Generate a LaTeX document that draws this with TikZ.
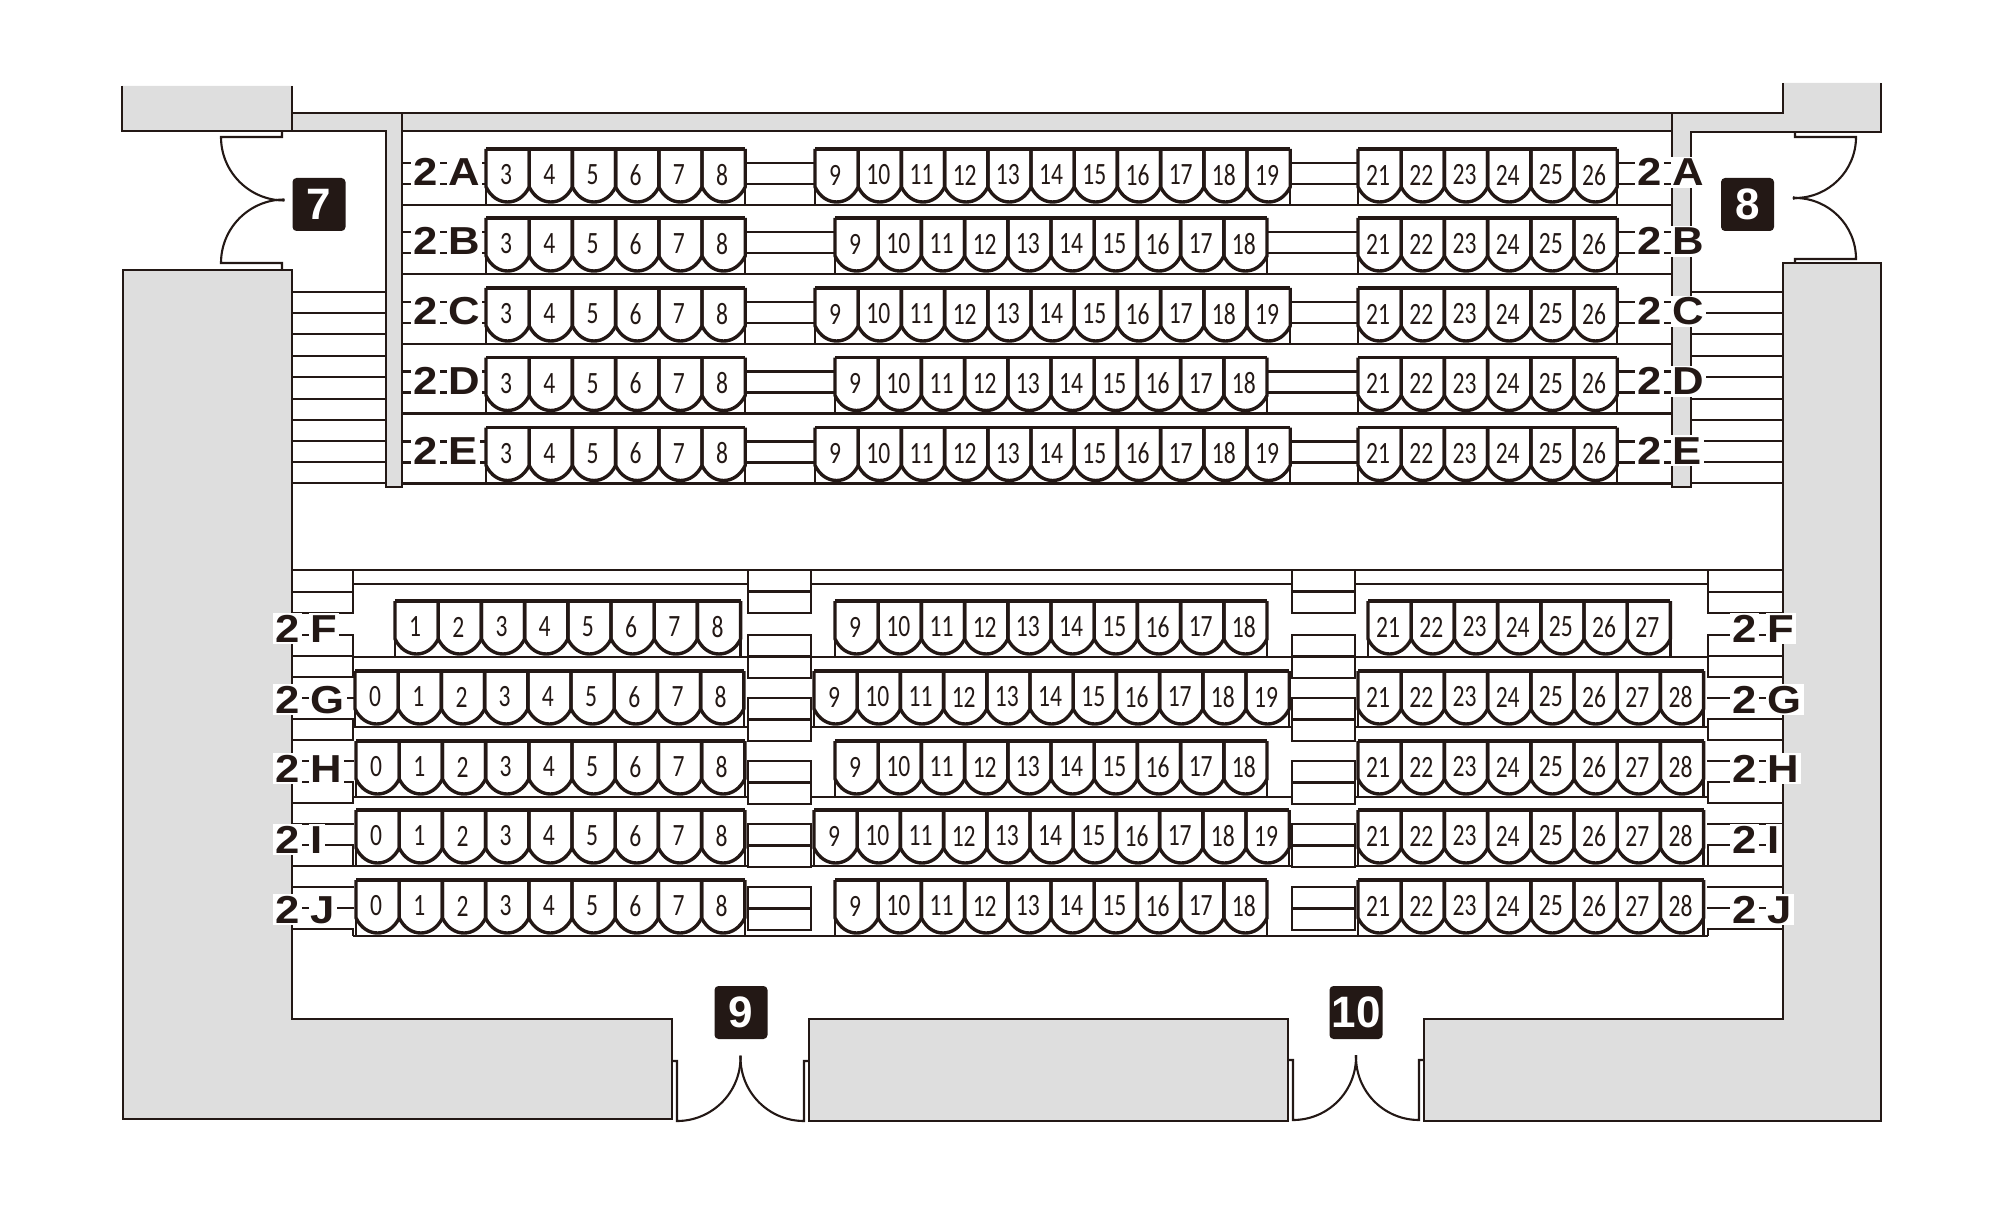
\documentclass[tikz,border=0pt]{standalone}
\usepackage{fontspec}
\usepackage{tikz}
\setmainfont{Liberation Sans}
\newfontfamily\labelfont[FakeStretch=1.12]{Liberation Sans}
\newfontfamily\seatfont[FakeStretch=0.76]{Carlito}
\definecolor{ink}{RGB}{35, 24, 21}
\definecolor{wallgray}{RGB}{222, 222, 222}
\tikzstyle{wall} = [draw=ink, line width=1.3pt, line join=miter]
\tikzstyle{stepline} = [draw=ink, line width=1.15pt]
\tikzstyle{seatline} = [draw=ink, line width=1.7pt, line join=round]
\tikzstyle{doorline} = [draw=ink, line width=1.05pt]
\tikzstyle{seatnum} = [inner sep=0pt, text=ink, font=\seatfont\fontsize{15.5}{16}\selectfont]
\tikzstyle{rowlabel} = [inner sep=0pt, anchor=base west, text=ink, font=\labelfont\bfseries\fontsize{19.5}{20}\selectfont]
\tikzstyle{badge} = [fill=ink, rounded corners=2pt, minimum size=26.5pt, inner sep=0pt, text=white, font=\bfseries\fontsize{22}{24}\selectfont]
% row label with white clearing behind each glyph
\newcommand{\rowtext}[1]{\setlength{\fboxsep}{1pt}\colorbox{white}{2} \kern-2.6pt\colorbox{white}{#1}}
% one block of seats: name, left x, row base y, first number, last number
\newcommand{\seatblock}[5]{
  \pgfmathsetmacro{\bw}{43.2}
  \pgfmathsetmacro{\bx}{#2+(#5-#4+1)*\bw}
  \draw[stepline] (#2,#3-56) -- (#2,#3) (\bx,#3-56) -- (\bx,#3);
  \foreach \n in {#4,...,#5} {
    \pgfmathsetmacro{\sx}{#2+(\n-#4)*\bw}
    \draw[seatline] (\sx,#3-56) -- (\sx,#3-18) .. controls (\sx+5,#3-8) and (\sx+13,#3-3) .. (\sx+\bw/2,#3-3)
      .. controls (\sx+\bw-13,#3-3) and (\sx+\bw-5,#3-8) .. (\sx+\bw,#3-18) -- (\sx+\bw,#3-56);
    \node[seatnum] (#1s\n) at (\sx+\bw/2-1.5,#3-30) {\n};
  }
  \draw[seatline] (#2,#3-56) -- (\bx,#3-56);
}
\begin{document}
\begin{tikzpicture}[x=0.5pt,y=-0.5pt]
\useasboundingbox (0,0) rectangle (2000,1208);

% walls =============================
\fill[wallgray] (122,86) -- (292,86) -- (292,113) -- (1783,113) -- (1783,83) -- (1881,83) -- (1881,132) -- (1691,132)
  -- (1691,487) -- (1672,487) -- (1672,131) -- (402,131) -- (402,487) -- (386,487) -- (386,131) -- (122,131) -- cycle;
\draw[wall] (122,86) -- (122,131) -- (386,131) -- (386,487) -- (402,487) -- (402,113);
\draw[wall] (292,86) -- (292,131);
\draw[wall] (292,113) -- (1783,113) -- (1783,83);
\draw[wall] (402,131) -- (1672,131);
\draw[wall] (1672,113) -- (1672,487) -- (1691,487) -- (1691,132) -- (1881,132) -- (1881,83);
\filldraw[wall, fill=wallgray] (123,270) -- (292,270) -- (292,1019) -- (672,1019) -- (672,1119) -- (123,1119) -- cycle;
\filldraw[wall, fill=wallgray] (809,1019) -- (1288,1019) -- (1288,1121) -- (809,1121) -- cycle;
\filldraw[wall, fill=wallgray] (1783,263) -- (1881,263) -- (1881,1121) -- (1424,1121) -- (1424,1019) -- (1783,1019) -- cycle;

% doors
\draw[doorline] (282,131) -- (282,137) -- (221,137) arc[start angle=180, end angle=90, radius=63.5];
\draw[doorline] (282,270) -- (282,263) -- (221,263) arc[start angle=180, end angle=270, radius=63.5];
\draw[doorline] (1795,132) -- (1795,137) -- (1856,137) arc[start angle=0, end angle=90, radius=61] -- ++(-2,-1);
\draw[doorline] (1795,263) -- (1795,259) -- (1856,259) arc[start angle=0, end angle=-90, radius=61] -- ++(-2,1);
\draw[doorline] (672,1061) -- (677,1061) -- (677,1121) arc[start angle=90, end angle=0, radius=63.5] -- ++(0,-2);
\draw[doorline] (809,1061) -- (804,1061) -- (804,1121) arc[start angle=90, end angle=180, radius=63.5] -- ++(0,-2);
\draw[doorline] (1288,1060) -- (1293,1060) -- (1293,1120) arc[start angle=90, end angle=0, radius=63] -- ++(0,-2);
\draw[doorline] (1424,1060) -- (1419,1060) -- (1419,1120) arc[start angle=90, end angle=180, radius=63] -- ++(0,-2);

\node[badge] (door7) at (319,204.5) {7};
\node[badge] (door8) at (1747.5,204.5) {8};
\node[badge] (door9) at (741,1012.5) {9};
\node[badge] (door10) at (1356,1012.5) {10};

% upper rows =============================
\foreach \y in {292,313,334,356,377,399,420,441,462,483} {
  \draw[stepline] (292,\y) -- (386,\y);
  \draw[stepline] (1691,\y) -- (1783,\y);
}
\foreach \b/\ml/\mr in {205/815/1290,274/835/1268,344/815/1290,413.5/835/1268,483.5/815/1290} {
  \draw[stepline] (402,\b) -- (1672,\b);
  \foreach \d in {21,42} {
    \draw[stepline] (402,\b-\d) -- (486,\b-\d);
    \draw[stepline] (745,\b-\d) -- (\ml,\b-\d);
    \draw[stepline] (\mr,\b-\d) -- (1358,\b-\d);
    \draw[stepline] (1618,\b-\d) -- (1672,\b-\d);
  }
}
\seatblock{al}{486}{205}{3}{8}
\seatblock{am}{815}{205}{9}{19}
\seatblock{ar}{1358}{205}{21}{26}
\seatblock{bl}{486}{274}{3}{8}
\seatblock{bm}{835}{274}{9}{18}
\seatblock{br}{1358}{274}{21}{26}
\seatblock{cl}{486}{344}{3}{8}
\seatblock{cm}{815}{344}{9}{19}
\seatblock{cr}{1358}{344}{21}{26}
\seatblock{dl}{486}{413.5}{3}{8}
\seatblock{dm}{835}{413.5}{9}{18}
\seatblock{dr}{1358}{413.5}{21}{26}
\seatblock{el}{486}{483.5}{3}{8}
\seatblock{em}{815}{483.5}{9}{19}
\seatblock{er}{1358}{483.5}{21}{26}

% lower rows =============================
\draw[wall] (292,570) -- (1783,570);
\foreach \b in {584,657,727,797,866} {
  \draw[stepline] (353,\b) -- (748,\b);
  \draw[stepline] (811,\b) -- (1292,\b);
  \draw[stepline] (1355,\b) -- (1708,\b);
}
\draw[stepline] (353,936) -- (1708,936);
\foreach \y in {570,592,613,635,656,677,698,719,740,761,782,803,824,845,866,887,908,929} {
  \draw[stepline] (292,\y) -- (354,\y);
  \draw[stepline] (1707,\y) -- (1783,\y);
}
\foreach \y/\e in {570/613,635/677,719/740,782/803,845/866,929/936} {
  \draw[stepline] (353,\y) -- (353,\e);
  \draw[stepline] (1708,\y) -- (1708,\e);
}
\foreach \y in {570,635,698,761,824,887} {
  \draw[stepline] (748,\y) rectangle (811,\y+43);
  \draw[stepline] (748,\y+21.5) -- (811,\y+21.5);
  \draw[stepline] (1292,\y) rectangle (1355,\y+43);
  \draw[stepline] (1292,\y+21.5) -- (1355,\y+21.5);
}
\seatblock{fl}{395}{657}{1}{8}
\seatblock{fm}{835}{657}{9}{18}
\seatblock{fr}{1368}{657}{21}{27}
\seatblock{gl}{355}{727}{0}{8}
\seatblock{gm}{814}{727}{9}{19}
\seatblock{gr}{1358}{727}{21}{28}
\seatblock{hl}{356}{797}{0}{8}
\seatblock{hm}{835}{797}{9}{18}
\seatblock{hr}{1358}{797}{21}{28}
\seatblock{il}{356}{866}{0}{8}
\seatblock{im}{814}{866}{9}{19}
\seatblock{ir}{1358}{866}{21}{28}
\seatblock{jl}{356}{936}{0}{8}
\seatblock{jm}{835}{936}{9}{18}
\seatblock{jr}{1358}{936}{21}{28}

% row labels
\foreach \r/\b in {A/186,B/255,C/325,D/394.5,E/464} {
  \node[rowlabel] (left\r) at (411,\b) {\rowtext{\r}};
  \node[rowlabel] (right\r) at (1635,\b) {\rowtext{\r}};
}
\foreach \r/\b in {F/642,G/713,H/782,I/853,J/923} {
  \node[rowlabel] (left\r) at (273,\b) {\rowtext{\r}};
  \node[rowlabel] (right\r) at (1730,\b) {\rowtext{\r}};
}

\end{tikzpicture}
\end{document}
